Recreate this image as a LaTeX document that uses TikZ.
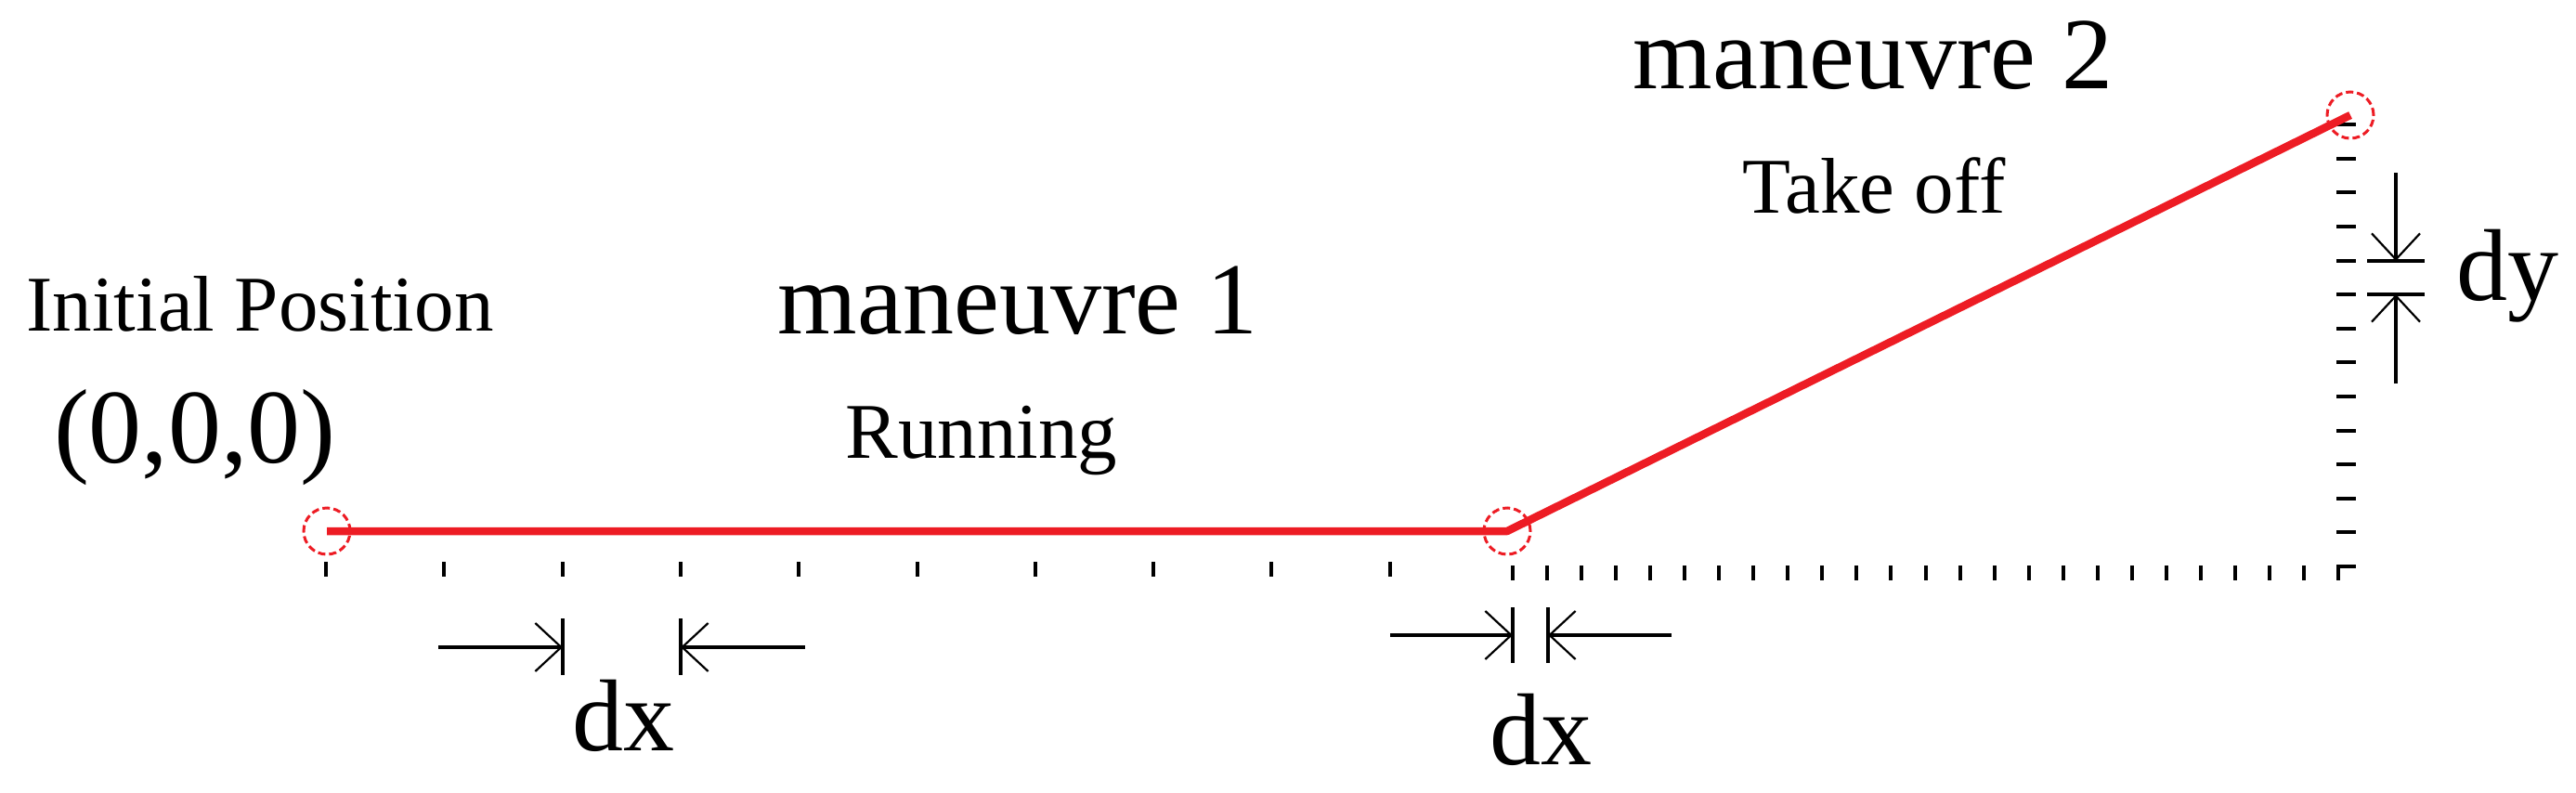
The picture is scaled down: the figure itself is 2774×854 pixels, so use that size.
\documentclass[tikz,border=0pt]{standalone}
\usepackage{fontspec}
\setmainfont{Liberation Serif}
\usetikzlibrary{arrows.meta}
\definecolor{pathred}{HTML}{ED1C24}
\tikzset{
  bigtxt/.style={font=\fontsize{110}{130}\selectfont, inner sep=0pt, anchor=base},
  smalltxt/.style={font=\fontsize{85}{100}\selectfont, inner sep=0pt, anchor=base},
  pathline/.style={draw=pathred, line width=8.5pt, line join=round},
  waypt/.style={circle, draw=pathred, dash pattern=on 8pt off 4pt, line width=3pt, minimum size=50pt, inner sep=0pt},
  ticklin/.style={line width=4pt},
  dimline/.style={line width=3.8pt, -{Straight Barb[length=28pt,width=52pt,line width=2.2pt]}},
  dimbar/.style={line width=4pt},
}
\begin{document}
\begin{tikzpicture}[x=1pt,y=-1pt]
\useasboundingbox (0,0) rectangle (2774,854);
% scale ticks
\foreach \k in {0,...,9} \draw[ticklin] ({351+127.3*\k},605) -- ({351+127.3*\k},621);
\foreach \k in {0,...,24} \draw[ticklin] ({1629+37.04*\k},609) -- ({1629+37.04*\k},625);
\foreach \k in {0,...,13} \draw[ticklin] (2516,{610-36.6*\k}) -- (2537,{610-36.6*\k});
% path
\node[waypt] (p0) at (352,572) {};
\node[waypt] (p1) at (1623,572) {};
\node[waypt] (p2) at (2531,124) {};
\draw[pathline] (p0.center) -- (p1.center) -- (p2.center);
% dx 1
\coordinate (a1s) at (472,697); \coordinate (a1e) at (606,697);
\coordinate (b1s) at (867,697); \coordinate (b1e) at (733,697);
\coordinate (a1t) at (606,666); \coordinate (a1b) at (606,727);
\coordinate (b1t) at (733,666); \coordinate (b1b) at (733,727);
\draw[dimline] (a1s) -- (a1e);
\draw[dimline] (b1s) -- (b1e);
\draw[dimbar] (a1t) -- (a1b);
\draw[dimbar] (b1t) -- (b1b);
% dx 2
\coordinate (a2s) at (1497,684); \coordinate (a2e) at (1629,684);
\coordinate (b2s) at (1800,684); \coordinate (b2e) at (1667,684);
\coordinate (a2t) at (1629,654); \coordinate (a2b) at (1629,714);
\coordinate (b2t) at (1667,654); \coordinate (b2b) at (1667,714);
\draw[dimline] (a2s) -- (a2e);
\draw[dimline] (b2s) -- (b2e);
\draw[dimbar] (a2t) -- (a2b);
\draw[dimbar] (b2t) -- (b2b);
% dy
\coordinate (c1s) at (2580,186); \coordinate (c1e) at (2580,281);
\coordinate (c2s) at (2580,413); \coordinate (c2e) at (2580,317);
\coordinate (c1l) at (2549,281); \coordinate (c1r) at (2611,281);
\coordinate (c2l) at (2549,317); \coordinate (c2r) at (2611,317);
\draw[dimline] (c1s) -- (c1e);
\draw[dimline] (c2s) -- (c2e);
\draw[dimbar] (c1l) -- (c1r);
\draw[dimbar] (c2l) -- (c2r);
% texts
\node[smalltxt] (init) at (280,356) {Initial Position};
\node[bigtxt, font=\fontsize{114}{130}\selectfont] (orig) at (210,498) {(0,0,0)};
\node[bigtxt] (m1) at (1096,359) {maneuvre 1};
\node[smalltxt] (run) at (1057,493) {Running};
\node[bigtxt] (m2) at (2017,95) {maneuvre 2};
\node[smalltxt] (tko) at (2018,229) {Take off};
\node[bigtxt] (dylab) at (2700,323) {dy};
\node[bigtxt] (dx1) at (671,808) {dx};
\node[bigtxt] (dx2) at (1659,823) {dx};
\end{tikzpicture}
\end{document}
